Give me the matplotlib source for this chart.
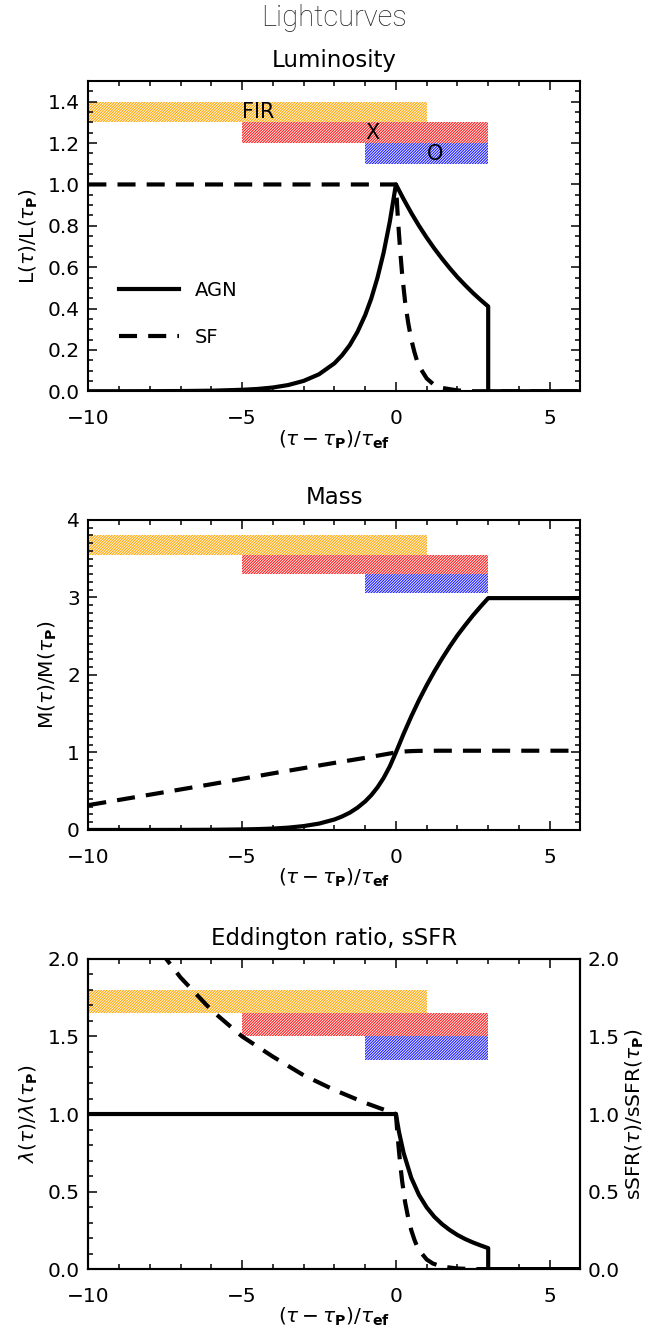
import matplotlib
matplotlib.use("Agg")
import matplotlib.pyplot as plt
from matplotlib.patches import Rectangle
from matplotlib.lines import Line2D
from matplotlib.ticker import MultipleLocator, FormatStrFormatter

plt.rcParams["font.family"] = ["DejaVu Sans"]
plt.rcParams["mathtext.fontset"] = "dejavusans"
plt.rcParams["hatch.linewidth"] = 0.8
plt.rcParams["lines.scale_dashes"] = False

# ---------------------------------------------------------------- data
# time since peak in units of the e-folding time
lum_agn_x = [-10, -9, -8, -7, -6, -5, -4.5, -4, -3.5, -3, -2.5, -2, -1.75, -1.5,
             -1.25, -1, -0.8, -0.6, -0.4, -0.2, 0, 0.25, 0.5, 0.75, 1, 1.25, 1.5,
             1.75, 2, 2.25, 2.5, 2.75, 3, 3, 6]
lum_agn_y = [0.0, 0.0001, 0.0003, 0.001, 0.0025, 0.007, 0.011, 0.018, 0.030, 0.050,
             0.082, 0.135, 0.174, 0.223, 0.287, 0.368, 0.449, 0.549, 0.670, 0.819,
             1.0, 0.929, 0.862, 0.800, 0.743, 0.690, 0.641, 0.595, 0.552, 0.513,
             0.476, 0.442, 0.41, 0.0, 0.0]

lum_sf_x = [-10, 0, 0.05, 0.1, 0.15, 0.2, 0.3, 0.4, 0.5, 0.6, 0.7, 0.8, 1.0, 1.2,
            1.5, 2.0, 2.5, 6]
lum_sf_y = [1.0, 1.0, 0.87, 0.76, 0.66, 0.57, 0.43, 0.33, 0.25, 0.19, 0.14, 0.11,
            0.062, 0.036, 0.016, 0.004, 0.0, 0.0]

mass_agn_x = [-10, -9, -8, -7, -6, -5, -4.5, -4, -3.5, -3, -2.5, -2, -1.75, -1.5,
              -1.25, -1, -0.8, -0.6, -0.4, -0.2, 0, 0.25, 0.5, 0.75, 1, 1.25, 1.5,
              1.75, 2, 2.25, 2.5, 2.75, 3, 6]
mass_agn_y = [0.0, 0.0001, 0.0003, 0.001, 0.0025, 0.007, 0.011, 0.018, 0.030, 0.050,
              0.082, 0.135, 0.174, 0.223, 0.287, 0.368, 0.449, 0.549, 0.670, 0.819,
              1.0, 1.24, 1.465, 1.674, 1.866, 2.045, 2.21, 2.365, 2.51, 2.64, 2.765,
              2.88, 2.99, 2.99]

mass_sf_x = [-10, -8, -6, -4, -2, -1, 0, 0.25, 0.5, 0.75, 1, 1.5, 2, 6]
mass_sf_y = [0.32, 0.455, 0.59, 0.73, 0.865, 0.93, 1.0, 1.012, 1.017, 1.020, 1.021,
             1.022, 1.022, 1.022]

edd_agn_x = [-10, 0, 0.1, 0.25, 0.5, 0.75, 1, 1.25, 1.5, 1.75, 2, 2.25, 2.5, 2.75,
             3, 3, 6]
edd_agn_y = [1.0, 1.0, 0.884, 0.749, 0.588, 0.478, 0.398, 0.337, 0.290, 0.252,
             0.220, 0.194, 0.172, 0.153, 0.135, 0.0, 0.0]

ssfr_x = [-7.7, -7, -6, -5, -4, -3, -2, -1, 0, 0.05, 0.1, 0.15, 0.2, 0.3, 0.4, 0.5,
          0.6, 0.7, 0.8, 1.0, 1.2, 1.5, 2.0, 2.5, 6]
ssfr_y = [2.06, 1.88, 1.67, 1.50, 1.37, 1.25, 1.155, 1.072, 1.0, 0.87, 0.76, 0.66,
          0.57, 0.43, 0.33, 0.25, 0.19, 0.14, 0.11, 0.062, 0.036, 0.016, 0.004, 0.0,
          0.0]

# observability windows: FIR, X-ray, optical
band_names = ["FIR", "X", "O"]
band_colors = ["#ffa500", "#ff1a1a", "#1a1aff"]
band_x0 = [-10, -5, -1]
band_x1 = [1, 3, 3]
band_label_x = [-5, -1, 1]
band_lum_y = [1.4, 1.3, 1.2, 1.1]
band_mass_y = [3.8, 3.55, 3.3, 3.05]
band_edd_y = [1.8, 1.65, 1.5, 1.35]

xlim = (-10, 6)

# ---------------------------------------------------------------- style
LW = 3.0
DASH = (0, (13, 8))
TICK_FS = 14.5
LABEL_FS = 14.5
TITLE_FS = 16.5
xlab = r"$(\tau-\tau_{\mathbf{P}})/\tau_{\mathbf{ef}}$"

fig = plt.figure(figsize=(6.48, 13.38), dpi=100)
left, width, height = 0.1363, 0.7595, 0.2318
bottoms = [0.7076, 0.3797, 0.0515]


def style_axes(ax, ymajor, yminor):
    ax.set_xlim(*xlim)
    ax.xaxis.set_major_locator(MultipleLocator(5))
    ax.xaxis.set_minor_locator(MultipleLocator(1))
    ax.yaxis.set_major_locator(MultipleLocator(ymajor))
    ax.yaxis.set_minor_locator(MultipleLocator(yminor))
    ax.tick_params(which="both", direction="in", top=True, right=True,
                   width=1.1, labelsize=TICK_FS)
    ax.tick_params(which="major", length=6.5)
    ax.tick_params(which="minor", length=3.5)
    ax.tick_params(axis="x", pad=13)
    ax.tick_params(axis="y", pad=6)
    for s in ax.spines.values():
        s.set_linewidth(1.5)
    ax.set_xlabel(xlab, fontsize=LABEL_FS, labelpad=0)


def draw_bands(ax, edges):
    for i in range(3):
        ax.add_patch(Rectangle((band_x0[i], edges[i + 1]), band_x1[i] - band_x0[i],
                               edges[i] - edges[i + 1], fill=False, hatch="/" * 12,
                               edgecolor=band_colors[i], linewidth=0, zorder=1))


# ---- Luminosity
ax1 = fig.add_axes([left, bottoms[0], width, height])
draw_bands(ax1, band_lum_y)
ax1.plot(lum_agn_x, lum_agn_y, color="k", lw=LW, zorder=3)
ax1.plot(lum_sf_x, lum_sf_y, color="k", lw=LW, ls=DASH, zorder=3)
ax1.set_ylim(0, 1.5)
style_axes(ax1, 0.2, 0.05)
ax1.yaxis.set_major_formatter(FormatStrFormatter("%.1f"))
ax1.set_ylabel(r"L($\tau$)/L($\tau_{\mathbf{P}}$)", fontsize=LABEL_FS, labelpad=6)
for i in range(3):
    ax1.text(band_label_x[i], band_lum_y[i + 1], band_names[i], fontsize=15,
             ha="left", va="bottom", zorder=4)
handles = [Line2D([], [], color="k", lw=LW),
           Line2D([], [], color="k", lw=LW, ls=DASH)]
ax1.legend(handles, ["AGN", "SF"], loc="center left", bbox_to_anchor=(0.0625, 0.25),
           frameon=False, fontsize=14, handlelength=3.1, handletextpad=0.8,
           labelspacing=1.45, borderpad=0, borderaxespad=0)

# ---- Mass
ax2 = fig.add_axes([left, bottoms[1], width, height])
draw_bands(ax2, band_mass_y)
ax2.plot(mass_agn_x, mass_agn_y, color="k", lw=LW, zorder=3)
ax2.plot(mass_sf_x, mass_sf_y, color="k", lw=LW, ls=DASH, zorder=3)
ax2.set_ylim(0, 4)
style_axes(ax2, 1, 0.1)
ax2.set_ylabel(r"M($\tau$)/M($\tau_{\mathbf{P}}$)", fontsize=LABEL_FS, labelpad=6)

# ---- Eddington ratio and specific star formation rate
ax3 = fig.add_axes([left, bottoms[2], width, height])
draw_bands(ax3, band_edd_y)
ax3.plot(edd_agn_x, edd_agn_y, color="k", lw=LW, zorder=3)
ax3.plot(ssfr_x, ssfr_y, color="k", lw=LW, ls=DASH, zorder=3)
ax3.set_ylim(0, 2)
style_axes(ax3, 0.5, 0.1)
ax3.yaxis.set_major_formatter(FormatStrFormatter("%.1f"))
ax3.set_ylabel(r"$\lambda$($\tau$)/$\lambda$($\tau_{\mathbf{P}}$)", fontsize=LABEL_FS,
               labelpad=6)
ax3r = ax3.twinx()
ax3r.set_ylim(0, 2)
ax3r.yaxis.set_major_locator(MultipleLocator(0.5))
ax3r.yaxis.set_major_formatter(FormatStrFormatter("%.1f"))
ax3r.tick_params(axis="y", length=0, pad=5, labelsize=TICK_FS)
ax3r.set_ylabel(r"sSFR($\tau$)/sSFR($\tau_{\mathbf{P}}$)", fontsize=LABEL_FS,
                labelpad=3)
for s in ax3r.spines.values():
    s.set_linewidth(1.5)

# ---- titles
cx = left + width / 2
fig.text(cx, 1 - 18 / 1338, "Lightcurves", ha="center", va="center", fontsize=21,
         family=["Roboto", "DejaVu Sans"], fontweight="light", color="#222222")
fig.text(cx, 1 - 60 / 1338, "Luminosity", ha="center", va="center", fontsize=TITLE_FS)
fig.text(cx, 1 - 498 / 1338, "Mass", ha="center", va="center", fontsize=TITLE_FS)
fig.text(cx, 1 - 938 / 1338, "Eddington ratio, sSFR", ha="center", va="center",
         fontsize=TITLE_FS)

fig.savefig("out.png", dpi=100)
